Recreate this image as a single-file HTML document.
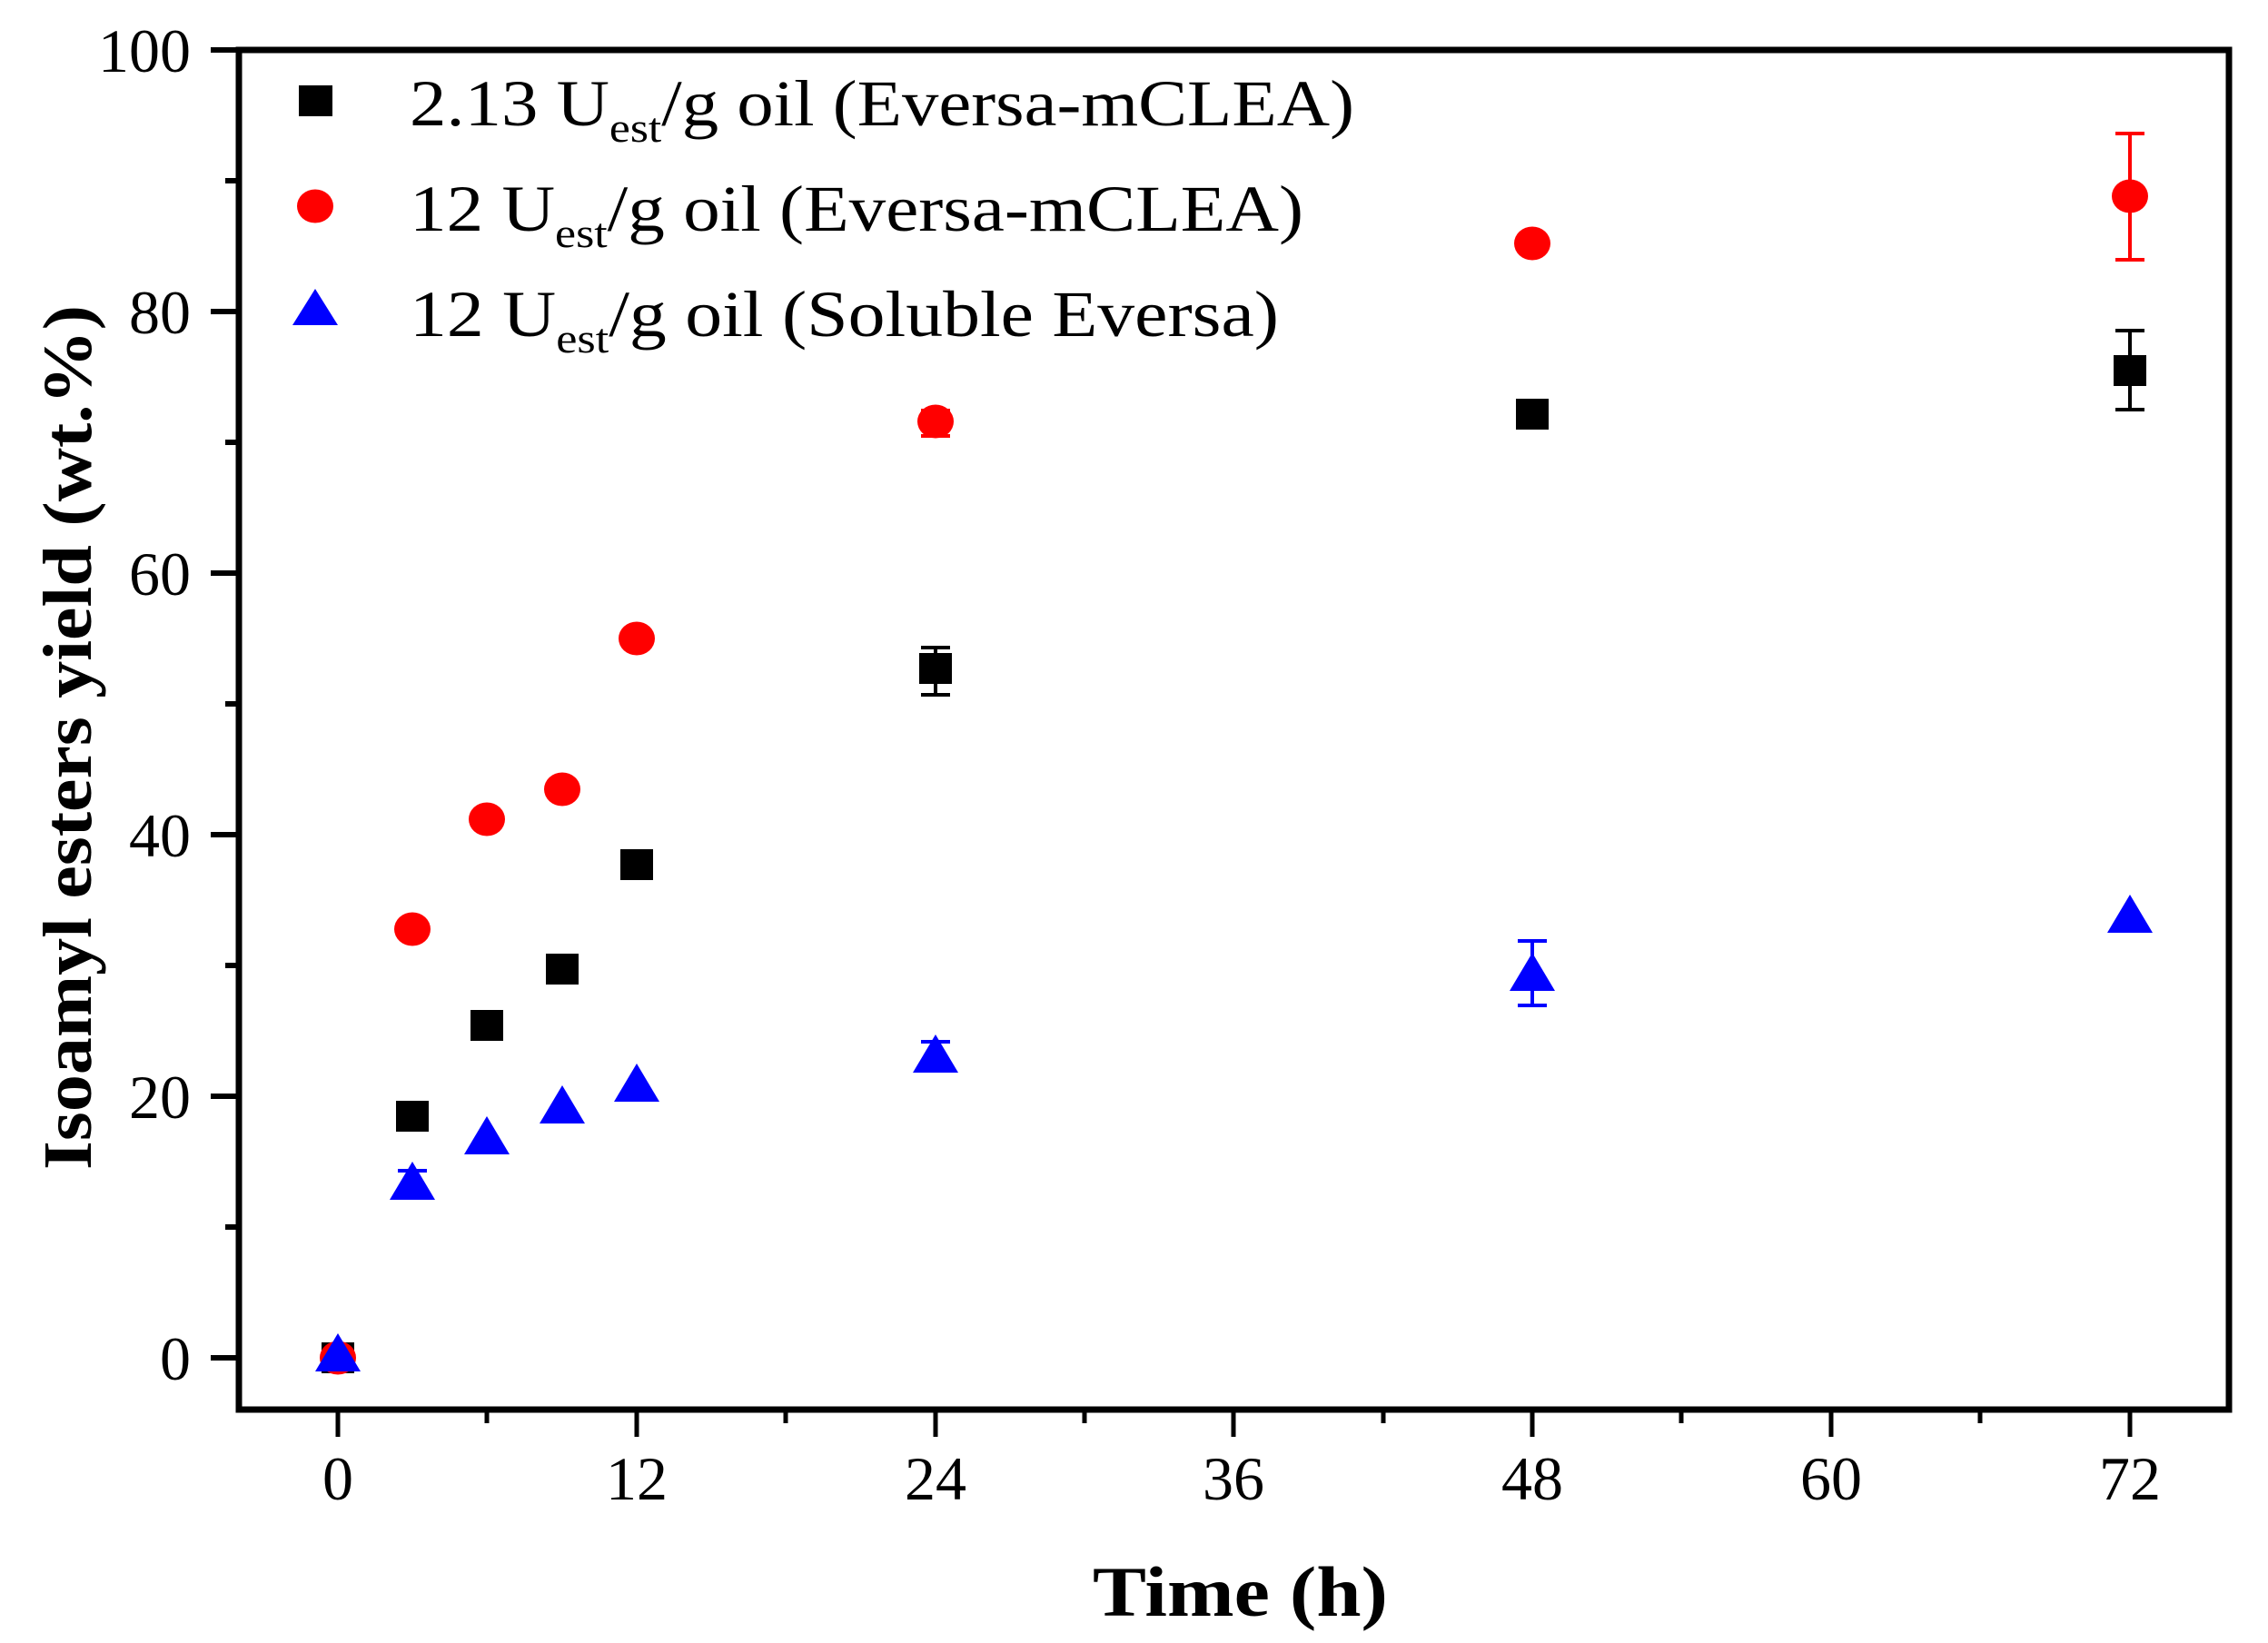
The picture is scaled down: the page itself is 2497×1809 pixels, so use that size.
<!DOCTYPE html>
<html><head><meta charset="utf-8"><style>
html,body{margin:0;padding:0;background:#fff;}
svg{display:block;}
text{font-family:"Liberation Serif",serif;fill:#000;}
</style></head><body>
<svg width="2497" height="1809" viewBox="0 0 2497 1809" xmlns="http://www.w3.org/2000/svg">
<rect width="2497" height="1809" fill="#fff"/>
<g stroke="#000" stroke-width="6">
<line x1="232" y1="55" x2="263" y2="55"/>
<line x1="232" y1="343" x2="263" y2="343"/>
<line x1="232" y1="631" x2="263" y2="631"/>
<line x1="232" y1="919" x2="263" y2="919"/>
<line x1="232" y1="1207" x2="263" y2="1207"/>
<line x1="232" y1="1495" x2="263" y2="1495"/>
<line x1="248" y1="199" x2="263" y2="199"/>
<line x1="248" y1="487" x2="263" y2="487"/>
<line x1="248" y1="775" x2="263" y2="775"/>
<line x1="248" y1="1063" x2="263" y2="1063"/>
<line x1="248" y1="1351" x2="263" y2="1351"/>
</g>
<g stroke="#000" stroke-width="5">
<line x1="372" y1="1552" x2="372" y2="1582"/>
<line x1="701" y1="1552" x2="701" y2="1582"/>
<line x1="1030" y1="1552" x2="1030" y2="1582"/>
<line x1="1358" y1="1552" x2="1358" y2="1582"/>
<line x1="1687" y1="1552" x2="1687" y2="1582"/>
<line x1="2016" y1="1552" x2="2016" y2="1582"/>
<line x1="2345" y1="1552" x2="2345" y2="1582"/>
<line x1="536" y1="1552" x2="536" y2="1567"/>
<line x1="865" y1="1552" x2="865" y2="1567"/>
<line x1="1194" y1="1552" x2="1194" y2="1567"/>
<line x1="1523" y1="1552" x2="1523" y2="1567"/>
<line x1="1851" y1="1552" x2="1851" y2="1567"/>
<line x1="2180" y1="1552" x2="2180" y2="1567"/>
</g>
<rect x="263" y="55" width="2191" height="1497" fill="none" stroke="#000" stroke-width="7"/>
<g font-size="68" text-anchor="end">
<text x="210" y="79">100</text>
<text x="210" y="367">80</text>
<text x="210" y="655">60</text>
<text x="210" y="943">40</text>
<text x="210" y="1231">20</text>
<text x="210" y="1519">0</text>
</g>
<g font-size="68" text-anchor="middle">
<text x="372" y="1651">0</text>
<text x="701" y="1651">12</text>
<text x="1030" y="1651">24</text>
<text x="1358" y="1651">36</text>
<text x="1687" y="1651">48</text>
<text x="2016" y="1651">60</text>
<text x="2345" y="1651">72</text>
</g>
<text x="1203" y="1779" font-size="78" font-weight="bold" textLength="325" lengthAdjust="spacingAndGlyphs">Time (h)</text>
<text transform="translate(100,1288) rotate(-90)" font-size="76" font-weight="bold" textLength="952" lengthAdjust="spacingAndGlyphs">Isoamyl esters yield (wt.%)</text>
<g stroke="#000" stroke-width="4">
<line x1="1030" y1="713" x2="1030" y2="765"/><line x1="1014" y1="713" x2="1046" y2="713"/><line x1="1014" y1="765" x2="1046" y2="765"/>
<line x1="2345" y1="364" x2="2345" y2="451"/><line x1="2329" y1="364" x2="2361" y2="364"/><line x1="2329" y1="451" x2="2361" y2="451"/>
</g>
<g stroke="#f00" stroke-width="4">
<line x1="1030" y1="452" x2="1030" y2="480"/><line x1="1014" y1="452" x2="1046" y2="452"/><line x1="1014" y1="480" x2="1046" y2="480"/>
<line x1="2345" y1="147" x2="2345" y2="286"/><line x1="2329" y1="147" x2="2361" y2="147"/><line x1="2329" y1="286" x2="2361" y2="286"/>
</g>
<g stroke="#00f" stroke-width="4">
<line x1="454" y1="1289" x2="454" y2="1312"/><line x1="438" y1="1289" x2="470" y2="1289"/><line x1="438" y1="1312" x2="470" y2="1312"/>
<line x1="1030" y1="1147" x2="1030" y2="1175"/><line x1="1014" y1="1147" x2="1046" y2="1147"/><line x1="1014" y1="1175" x2="1046" y2="1175"/>
<line x1="1687" y1="1036" x2="1687" y2="1107"/><line x1="1671" y1="1036" x2="1703" y2="1036"/><line x1="1671" y1="1107" x2="1703" y2="1107"/>
</g>
<g fill="#000">
<rect x="354" y="1478" width="36" height="34"/>
<rect x="436" y="1212" width="36" height="34"/>
<rect x="518" y="1112" width="36" height="34"/>
<rect x="601" y="1050" width="36" height="34"/>
<rect x="683" y="935" width="36" height="34"/>
<rect x="1012" y="719" width="36" height="34"/>
<rect x="1669" y="439" width="36" height="34"/>
<rect x="2327" y="391" width="36" height="34"/>
</g>
<g fill="#f00">
<ellipse cx="372" cy="1495" rx="20" ry="18.5"/>
<ellipse cx="454" cy="1023" rx="20" ry="18.5"/>
<ellipse cx="536" cy="902" rx="20" ry="18.5"/>
<ellipse cx="619" cy="869" rx="20" ry="18.5"/>
<ellipse cx="701" cy="703" rx="20" ry="18.5"/>
<ellipse cx="1030" cy="464" rx="20" ry="18.5"/>
<ellipse cx="1687" cy="268" rx="20" ry="18.5"/>
<ellipse cx="2345" cy="216" rx="20" ry="18.5"/>
</g>
<g fill="#00f">
<polygon points="372,1468 397,1510 347,1510"/>
<polygon points="454,1279 479,1321 429,1321"/>
<polygon points="536,1229 561,1271 511,1271"/>
<polygon points="619,1195 644,1237 594,1237"/>
<polygon points="701,1171 726,1213 676,1213"/>
<polygon points="1030,1139 1055,1181 1005,1181"/>
<polygon points="1687,1049 1712,1091 1662,1091"/>
<polygon points="2345,985 2370,1027 2320,1027"/>
</g>
<rect x="329" y="94" width="37" height="34" fill="#000"/>
<ellipse cx="347" cy="227" rx="20" ry="18.5" fill="#f00"/>
<polygon points="347,318 372,358 322,358" fill="#00f"/>
<g font-size="72">
<text x="451" y="138" textLength="1040" lengthAdjust="spacingAndGlyphs">2.13 U<tspan font-size="46" dy="18">est</tspan><tspan dy="-18">/g oil (Eversa-mCLEA)</tspan></text>
<text x="451" y="254" textLength="984" lengthAdjust="spacingAndGlyphs">12 U<tspan font-size="46" dy="18">est</tspan><tspan dy="-18">/g oil (Eversa-mCLEA)</tspan></text>
<text x="451" y="370" textLength="957" lengthAdjust="spacingAndGlyphs">12 U<tspan font-size="46" dy="18">est</tspan><tspan dy="-18">/g oil (Soluble Eversa)</tspan></text>
</g>
</svg>
</body></html>
